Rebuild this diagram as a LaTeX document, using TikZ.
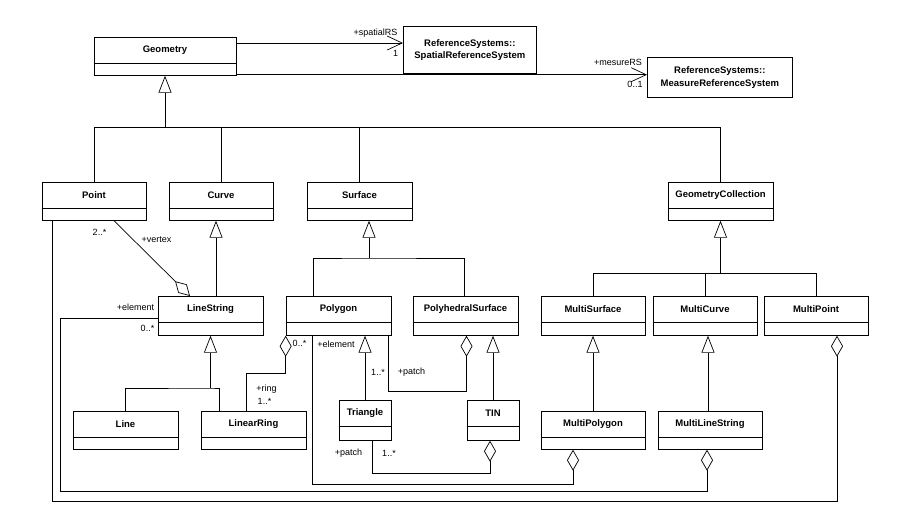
\documentclass[tikz,border=0pt]{standalone}
\usepackage{fontspec}
\setmainfont{Liberation Sans}
\usetikzlibrary{arrows.meta,calc}

% class box: name, centre x, top y, width, height, text
\newcommand{\umlclass}[6]{%
    \node[classbox, minimum width=#4pt, minimum height=#5pt, anchor=north] (#1) at (#2,#3) {};
    \draw ([yshift=-26pt]#1.north west) -- ([yshift=-26pt]#1.north east);
    \node[classname] (#1-name) at ([yshift=-13pt]#1.north) {#6};
}

\begin{document}
\begin{tikzpicture}[
        x=1pt, y=-1pt, line width=0.7pt,
        classbox/.style={draw, rectangle, inner sep=0pt, fill=white},
        classname/.style={inner sep=0pt, font=\fontsize{9.5}{11}\selectfont\bfseries},
        refbox/.style={draw, align=center, inner sep=0pt, font=\fontsize{9.5}{12.5}\selectfont\bfseries},
        role/.style={inner sep=0pt, font=\fontsize{9}{10}\selectfont},
        gen/.style={-{Triangle[open, length=17pt, width=13pt, line width=0.7pt, fill=white]}, line width=0.9pt},
        agg/.style={{Diamond[open, length=21pt, width=12pt, line width=0.7pt, fill=white]}-},
        nav/.style={-{Straight Barb[length=15pt, width=14pt, line width=0.7pt]}},
    ]
        \useasboundingbox (0,0) rectangle (903,523);

        % classes
        \umlclass{geom}{165}{37}{142}{38}{Geometry}
        \umlclass{point}{94}{182}{104}{38}{Point}
        \umlclass{curve}{221}{182}{104}{38}{Curve}
        \umlclass{surface}{359.5}{182}{105}{38}{Surface}
        \umlclass{gcoll}{720.5}{182}{105}{38}{GeometryCollection}
        \umlclass{linestr}{210.5}{296}{105}{39}{LineString}
        \umlclass{polygon}{338.5}{296}{105}{39}{Polygon}
        \umlclass{polysurf}{465.5}{296}{105}{39}{PolyhedralSurface}
        \umlclass{msurf}{593}{296}{104}{39}{MultiSurface}
        \umlclass{mcurve}{705}{296}{104}{39}{MultiCurve}
        \umlclass{mpoint}{816}{296}{104}{39}{MultiPoint}
        \umlclass{line}{125.5}{411}{105}{38}{Line}
        \umlclass{lring}{253.5}{411}{105}{38}{LinearRing}
        \umlclass{triangle}{365}{400}{52}{40}{Triangle}
        \umlclass{tin}{493}{400}{52}{40}{TIN}
        \umlclass{mpoly}{593}{411}{104}{38}{MultiPolygon}
        \umlclass{mlstr}{710}{411}{104}{38}{MultiLineString}

        \node[refbox, minimum width=133pt, minimum height=47pt, anchor=north west] (spatialrs) at (403,26) {ReferenceSystems::\\SpatialReferenceSystem};
        \node[refbox, minimum width=145pt, minimum height=40pt, anchor=north west] (measurers) at (647,57) {ReferenceSystems::\\MeasureReferenceSystem};

        % associations to the reference systems
        \coordinate (geomsrs) at ([yshift=-6pt]geom.north east);
        \coordinate (geommrs) at ([yshift=1pt]geom.south east);
        \draw[nav] (geomsrs) -- (geomsrs -| spatialrs.west);
        \draw[nav] (geommrs) -- (geommrs -| measurers.west);
        \node[role] at (375.5,33) {+spatialRS};
        \node[role] at (395.5,53) {1};
        \node[role] at (618,62) {+mesureRS};
        \node[role] at (635,84) {0..1};

        % generalisations
        \coordinate (geomjoin) at (geom.south |- 0,127);
        \draw[gen] (geomjoin) -- (geom.south);
        \draw (point.north) |- (gcoll.north |- geomjoin) -- (gcoll.north);
        \draw (curve.north) -- (curve.north |- geomjoin);
        \draw (surface.north) -- (surface.north |- geomjoin);

        \draw[gen] ([xshift=5.5pt]linestr.north) -- ([xshift=5.5pt]linestr.north |- curve.south);

        \coordinate (surfjoin) at (369,258);
        \draw[gen] (surfjoin) -- (surfjoin |- surface.south);
        \draw ([xshift=-25.5pt]polygon.north) |- (surfjoin) -| ([xshift=-1.5pt]polysurf.north);

        \coordinate (gcjoin) at (gcoll.south |- 0,273);
        \draw[gen] (gcjoin) -- (gcoll.south);
        \draw (msurf.north) |- (mpoint.north |- gcjoin) -- (mpoint.north);
        \draw (mcurve.north) -- (mcurve.north |- gcjoin);

        \coordinate (lsjoin) at (linestr.south |- 0,388);
        \draw[gen] (lsjoin) -- (linestr.south);
        \draw (line.north) |- (lsjoin) -| ([xshift=-34.5pt]lring.north);

        \draw[gen, line width=0.7pt] (triangle.north) -- (triangle.north |- polygon.south);
        \draw[gen, line width=0.7pt] (tin.north) -- (tin.north |- polysurf.south);
        \draw[gen] (mpoly.north) -- (msurf.south);
        \draw[gen] ([xshift=-2pt]mlstr.north) -- ([xshift=-2pt]mlstr.north |- mcurve.south);

        % aggregations
        \draw[agg] ([xshift=-20.5pt]linestr.north) -- ([xshift=20pt]point.south);
        \node[role] at (99.5,232) {2..*};
        \node[role] at (156.5,240) {+vertex};

        \draw[agg] (polygon.south west) -- ++(0,38) -| ([xshift=-7.5pt]lring.north);
        \node[role] at (299.5,343) {0..*};
        \node[role] at (266.5,389) {+ring};
        \node[role] at (264.5,401) {1..*};

        \draw[agg] ([xshift=1pt]polysurf.south) -- ++(0,56) -| ([xshift=49.5pt]polygon.south);
        \node[role] at (378,372) {1..*};
        \node[role] at (411.5,372) {+patch};

        \draw[agg] ([xshift=-3pt]tin.south) -- ++(0,33) -| ([xshift=7pt]triangle.south);
        \node[role] at (348.5,453) {+patch};
        \node[role] at (389,453) {1..*};

        \draw[agg] ([xshift=-20pt]mpoly.south) -- ++(0,35) -| ([xshift=-26.5pt]polygon.south);
        \node[role] at (336,344) {+element};

        \coordinate (lselem) at ([yshift=-22pt]linestr.north west);
        \draw[agg] ([xshift=-3pt]mlstr.south) -- ++(0,42) -| ($(lselem)+(-97,0)$) -- (lselem);
        \node[role] at (135.5,307) {+element};
        \node[role] at (147.5,328) {0..*};

        \draw[agg] ([xshift=21pt]mpoint.south) -- ++(0,166) -| ([xshift=-42pt]point.south);
    \end{tikzpicture}
\end{document}
